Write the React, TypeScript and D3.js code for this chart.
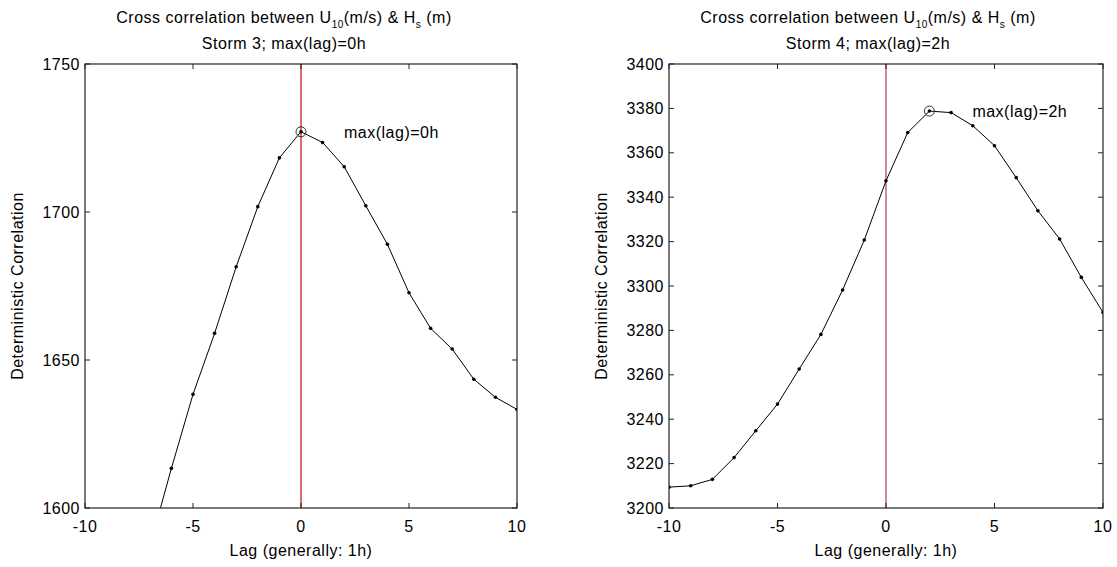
import React from "react";
import * as d3 from "d3";

const lags3 = [-7, -6, -5, -4, -3, -2, -1, 0, 1, 2, 3, 4, 5, 6, 7, 8, 9, 10];
const storm3 = [1587, 1613.4, 1638.4, 1659.0, 1681.5, 1701.8, 1718.3, 1727.1, 1723.5, 1715.3, 1702.1, 1689.1, 1672.7, 1660.7, 1653.7, 1643.5, 1637.4, 1633.3];
const lags4 = [-10, -9, -8, -7, -6, -5, -4, -3, -2, -1, 0, 1, 2, 3, 4, 5, 6, 7, 8, 9, 10];
const storm4 = [3209.4, 3210.0, 3212.9, 3222.7, 3234.8, 3246.8, 3262.6, 3278.2, 3298.2, 3320.7, 3347.4, 3369.1, 3378.8, 3378.1, 3372.2, 3363.2, 3348.8, 3333.9, 3321.2, 3303.9, 3288.1];
const xTicks = [-10, -5, 0, 5, 10];
const yTicks3 = [1600, 1650, 1700, 1750];
const yTicks4 = [3200, 3220, 3240, 3260, 3280, 3300, 3320, 3340, 3360, 3380, 3400];
const subtitles = ["Storm 3; max(lag)=0h", "Storm 4; max(lag)=2h"];
const maxLags = [0, 2];
const annotations = ["max(lag)=0h", "max(lag)=2h"];

const FONT = "'Liberation Sans', Arial, sans-serif";
const FS = 16;
const LS = 0.5;

function Panel({ id, x0, x1, y0, y1, lags, vals, yDomain, yTicks, subtitle, maxLag, annot, redColor, titleCx }) {
  const x = d3.scaleLinear().domain([-10, 10]).range([x0, x1]);
  const y = d3.scaleLinear().domain(yDomain).range([y1, y0]);
  const pts = lags.map((l, i) => [l, vals[i]]);
  const line = d3.line().x((d) => x(d[0])).y((d) => y(d[1]));
  const mi = lags.indexOf(maxLag);
  const mx = x(maxLag);
  const my = y(vals[mi]);
  const cx = (x0 + x1) / 2;
  const cy = (y0 + y1) / 2;
  return (
    <g fontFamily={FONT} fill="#000">
      <defs>
        <clipPath id={id}>
          <rect x={x0} y={y0} width={x1 - x0} height={y1 - y0} />
        </clipPath>
      </defs>
      <rect x={x0} y={y0} width={x1 - x0} height={y1 - y0} fill="#fff" stroke="none" />
      <line x1={x(0)} x2={x(0)} y1={y0} y2={y1} stroke={redColor} strokeWidth={1.6} />
      <g clipPath={`url(#${id})`}>
        <path d={line(pts)} fill="none" stroke="#000" strokeWidth={1} />
        {pts.map((p, i) => (
          <circle key={i} cx={x(p[0])} cy={y(p[1])} r={1.8} fill="#000" />
        ))}
      </g>
      <circle cx={mx} cy={my} r={5} fill="none" stroke="#333" strokeWidth={1} />
      <text x={mx + 43} y={my + 6} fontSize={FS} letterSpacing={LS}>{annot}</text>
      <rect x={x0} y={y0} width={x1 - x0} height={y1 - y0} fill="none" stroke="#222" strokeWidth={1.2} />
      {xTicks.map((t) => (
        <g key={"x" + t}>
          <line x1={x(t)} x2={x(t)} y1={y1} y2={y1 - 5} stroke="#222" />
          <line x1={x(t)} x2={x(t)} y1={y0} y2={y0 + 5} stroke="#222" />
          <text x={x(t)} y={532} fontSize={FS} textAnchor="middle" letterSpacing={LS}>{t}</text>
        </g>
      ))}
      {yTicks.map((t) => (
        <g key={"y" + t}>
          <line x1={x0} x2={x0 + 5} y1={y(t)} y2={y(t)} stroke="#222" />
          <line x1={x1} x2={x1 - 5} y1={y(t)} y2={y(t)} stroke="#222" />
          <text x={x0 - 5} y={y(t) + 5.5} fontSize={FS} textAnchor="end" letterSpacing={LS}>{t}</text>
        </g>
      ))}
      <text x={cx} y={556} fontSize={FS} textAnchor="middle" letterSpacing={LS}>Lag (generally: 1h)</text>
      <text transform={`translate(${x0 - 62},${cy}) rotate(-90)`} fontSize={FS} textAnchor="middle" letterSpacing={LS}>
        Deterministic Correlation
      </text>
      <text x={titleCx} y={23} fontSize={FS} textAnchor="middle" letterSpacing={LS}>
        Cross correlation between U<tspan dy={5} fontSize={10}>10</tspan>
        <tspan dy={-5}>(m/s) &amp; H</tspan>
        <tspan dy={5} fontSize={10}>s</tspan>
        <tspan dy={-5}> (m)</tspan>
      </text>
      <text x={titleCx} y={49} fontSize={FS} textAnchor="middle" letterSpacing={LS}>{subtitle}</text>
    </g>
  );
}

export default function App() {
  return (
    <svg width={1117} height={567} style={{ position: "absolute", left: 0, top: 0, background: "#fff" }}>
      <rect x={0} y={0} width={1117} height={567} fill="#fff" />
      <Panel id="c3" x0={85} x1={517} y0={64} y1={508} lags={lags3} vals={storm3} yDomain={[1600, 1750]}
        yTicks={yTicks3} subtitle={subtitles[0]} maxLag={maxLags[0]} annot={annotations[0]} redColor="#d04848" titleCx={284} />
      <Panel id="c4" x0={669} x1={1103} y0={64} y1={508} lags={lags4} vals={storm4} yDomain={[3200, 3400]}
        yTicks={yTicks4} subtitle={subtitles[1]} maxLag={maxLags[1]} annot={annotations[1]} redColor="#c0707e" titleCx={868} />
    </svg>
  );
}
